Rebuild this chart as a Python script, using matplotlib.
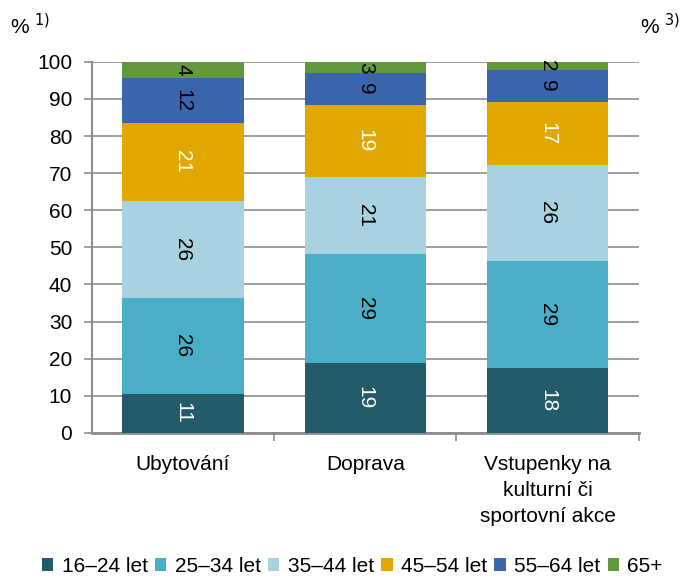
import matplotlib.pyplot as plt
import numpy as np

plt.rcParams['font.family'] = ['Liberation Sans', 'DejaVu Sans']

kategorie = ["Ubytování", "Doprava", "Vstupenky na\nkulturní či\nsportovní akce"]
skupiny = ["16–24 let", "25–34 let", "35–44 let", "45–54 let", "55–64 let", "65+"]
barvy = ["#235b6a", "#4aaec6", "#a9d2e0", "#e3a800", "#3a65ad", "#63993e"]
barva_textu = ["white", "black", "black", "white", "black", "black"]

# podily vekovych skupin v % (odhad z grafu)
v_16_24 = [10.6, 18.9, 17.6]
v_25_34 = [25.8, 29.3, 28.8]
v_35_44 = [26.1, 20.8, 25.8]
v_45_54 = [21.1, 19.4, 17.0]
v_55_64 = [12.0, 8.6, 8.6]
v_65 = [4.4, 3.0, 2.2]
hodnoty = [v_16_24, v_25_34, v_35_44, v_45_54, v_55_64, v_65]

fig = plt.figure(figsize=(6.84, 5.78), dpi=100)
ax = fig.add_axes([0.134, 0.251, 0.8, 0.642])

x = np.arange(len(kategorie))
spodek = np.zeros(len(kategorie))
for i, rada in enumerate(hodnoty):
    rada = np.array(rada)
    ax.bar(x, rada, 0.665, bottom=spodek, color=barvy[i], label=skupiny[i], zorder=3)
    for j in range(len(x)):
        ax.text(x[j], spodek[j] + rada[j] / 2, f"{rada[j]:.0f}", rotation=-90,
                ha="center", va="center", fontsize=15, color=barva_textu[i], zorder=4)
    spodek += rada

ax.set_xlim(-0.5, 2.5)
ax.set_ylim(0, 100)
ax.set_yticks(range(0, 101, 10))
ax.tick_params(axis="y", labelsize=15, length=6, color="#8c8c8c", width=1.2, pad=8)
ax.yaxis.grid(True, color="#8c8c8c", linewidth=1.2, zorder=0)
ax.set_xticks(x)
ax.set_xticklabels(kategorie, fontsize=15, linespacing=1.45)
ax.tick_params(axis="x", length=0, pad=16)
ax.set_xticks([0.5, 1.5, 2.5], minor=True)
ax.tick_params(axis="x", which="minor", length=6, color="#8c8c8c", width=1.2)
for s in ["top", "right"]:
    ax.spines[s].set_visible(False)
ax.spines["left"].set_color("#8c8c8c")
ax.spines["left"].set_linewidth(1.5)
ax.spines["bottom"].set_color("#8c8c8c")
ax.spines["bottom"].set_linewidth(2)

fig.text(0.015, 0.955, "% $^{1)}$", fontsize=15, va="center", ha="left")
fig.text(0.995, 0.955, "% $^{3)}$", fontsize=15, va="center", ha="right")

fig.legend(loc="center", bbox_to_anchor=(0.515, 0.02), ncol=6, frameon=False,
           fontsize=15, handlelength=0.55, handleheight=0.55, handletextpad=0.4,
           columnspacing=0.35)

plt.savefig("out.png", dpi=100)
